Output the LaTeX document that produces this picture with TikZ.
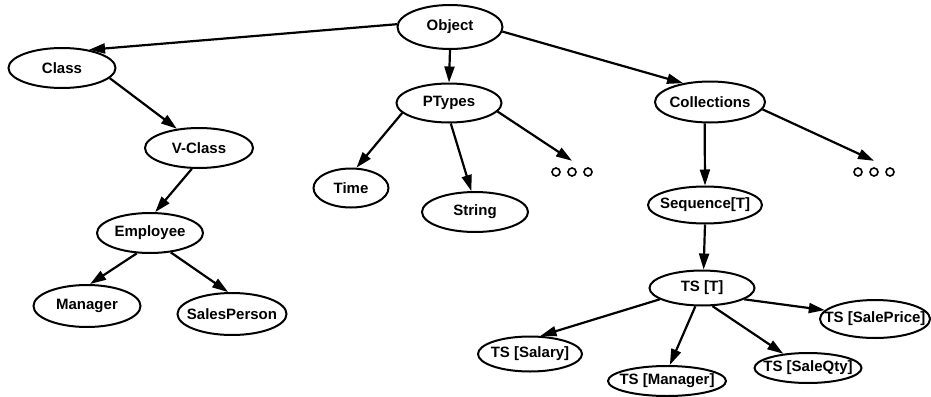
\documentclass[tikz,border=0pt]{standalone}
\usepackage{fontspec}
\setmainfont{Liberation Sans}
\usetikzlibrary{shapes.geometric,arrows.meta}
\tikzset {>={Triangle[length=16pt,width=10pt]}}
\tikzset {cls/.style={ellipse,draw,line width=2pt,inner xsep=-14pt,inner ysep=0pt,
            minimum width=#1,minimum height=40pt,
            font=\fontsize{15}{18}\selectfont\bfseries},
          cls/.default=106pt,
          isa/.style={->,line width=2.2pt},
          more/.style={minimum width=44pt,minimum height=22pt,inner sep=0pt}}

\begin{document}
\begin{tikzpicture}[x=1pt,y=-1pt]
\useasboundingbox (0,0) rectangle (931,396);

% Root and its three branches
\node[cls=105pt,minimum height=44pt] (Obj)  at (450,27)  {Object};
\node[cls=107pt]                     (Cls)  at (62,68)   {Class};
\node[cls=105pt,minimum height=39pt] (PTy)  at (449,103) {PTypes};
\node[cls=110pt,minimum height=41pt] (Coll) at (710,102) {Collections};

% Class side
\node[cls=108pt]                     (VCls)  at (199,148) {V-Class};
\node[cls=106pt]                     (Emp)   at (150,233) {Employee};
\node[cls=107pt,minimum height=42pt] (Mgr)   at (87,306)  {Manager};
\node[cls=109pt,minimum height=42pt] (Sales) at (232,314) {SalesPerson};

% Primitive types
\node[cls=75pt,minimum height=39pt]  (Time) at (351,188) {Time};
\node[cls=106pt]                     (Str)  at (475,212) {String};
\node[more] (more1) at (572,172) {};
\foreach \dx in {-16,0,16}
   \draw [line width=1.6pt] ([xshift=\dx pt]more1.center) circle (4pt);

% Collections
\node[more] (more2) at (874,172) {};
\foreach \dx in {-16,0,16}
   \draw [line width=1.6pt] ([xshift=\dx pt]more2.center) circle (4pt);
\node[cls=114pt,minimum height=37pt] (Seq)     at (705,205) {Sequence[T]};
\node[cls=105pt,minimum height=35pt] (TST)     at (702,288) {TS [T]};
\node[cls=110pt,minimum height=38pt] (TSPrice) at (875,319) {TS [SalePrice]};
\node[cls=104pt,minimum height=35pt] (TSSal)   at (530,354) {TS [Salary]};
\node[cls=118pt,minimum height=30pt] (TSMgr)   at (667,381) {TS [Manager]};
\node[cls=107pt,minimum height=30pt] (TSQty)   at (808,368) {TS [SaleQty]};

% Arrows
\draw [isa] (Obj.177) -- (Cls.34);
\draw [isa] (Obj.270) -- (PTy.90);
\draw [isa] (Obj.355) -- (Coll.145);
\draw [isa] (Cls.348) -- (VCls.139);
\draw [isa] (VCls.251) -- (Emp.76);
\draw [isa] (Emp.237) -- (Mgr.82);
\draw [isa] (Emp.317) -- (Sales.100);
\draw [isa] (PTy.192) -- (Time.75);
\draw [isa] (PTy.275) -- (Str.100);
\draw [isa] (PTy.350) -- (more1.north);
\draw [isa] (Coll.256) -- (Seq.90);
\draw [isa] (Coll.352) -- (more2.north);
\draw [isa] (Seq.270) -- (TST.85);
\draw [isa] (TST.195) -- (TSSal.60);
\draw [isa] (TST.250) -- (TSMgr.80);
\draw [isa] (TST.300) -- (TSQty.150);
\draw [isa] (TST.345) -- (TSPrice.170);
\end{tikzpicture}
\end{document}
